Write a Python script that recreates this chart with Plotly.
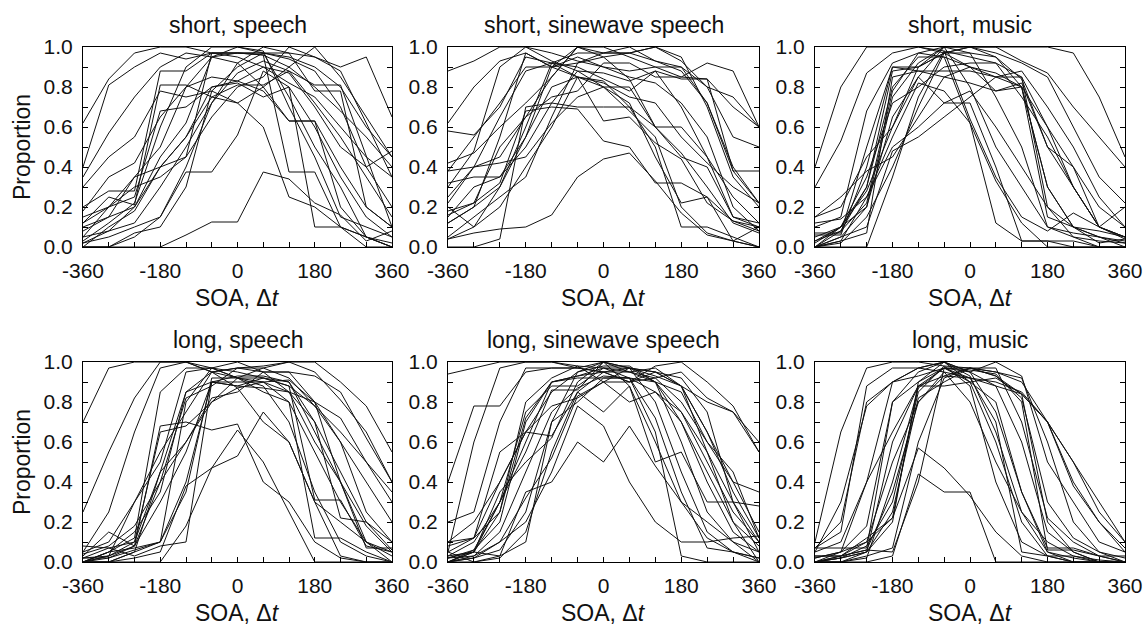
import plotly.graph_objects as go

SOA = [-360, -300, -240, -180, -120, -60, 0, 60, 120, 180, 240, 300, 360]

panel_titles = ["short, speech", "short, sinewave speech", "short, music",
                "long, speech", "long, sinewave speech", "long, music"]

short_speech = [
    [0.62, 0.84, 0.97, 1.0, 1.0, 0.97, 0.95, 0.90, 0.82, 0.75, 0.60, 0.45, 0.35],
    [0.40, 0.81, 0.90, 0.97, 0.94, 0.97, 0.97, 0.96, 0.90, 0.80, 0.68, 0.55, 0.40],
    [0.35, 0.57, 0.75, 0.90, 0.97, 0.95, 0.92, 0.80, 0.63, 0.63, 0.40, 0.20, 0.10],
    [0.20, 0.28, 0.28, 0.88, 0.88, 0.97, 0.97, 0.97, 0.95, 0.90, 0.80, 0.60, 0.45],
    [0.12, 0.25, 0.21, 0.81, 0.81, 0.75, 0.81, 0.81, 0.88, 0.81, 0.81, 0.45, 0.10],
    [0.05, 0.20, 0.35, 0.50, 0.80, 0.95, 1.0, 0.97, 0.94, 0.88, 0.70, 0.40, 0.20],
    [0.10, 0.15, 0.20, 0.40, 0.55, 0.75, 0.72, 0.80, 0.90, 1.0, 0.85, 0.65, 0.45],
    [0.0, 0.0, 0.07, 0.10, 0.30, 0.78, 0.90, 0.97, 0.75, 0.50, 0.30, 0.05, 0.0],
    [0.0, 0.0, 0.0, 0.0, 0.06, 0.125, 0.125, 0.375, 0.34, 0.22, 0.16, 0.03, 0.08],
    [0.02, 0.05, 0.10, 0.15, 0.375, 0.375, 0.56, 0.88, 0.80, 0.60, 0.35, 0.15, 0.05],
    [0.18, 0.35, 0.42, 0.65, 0.80, 0.85, 0.83, 0.78, 0.63, 0.63, 0.20, 0.05, 0.0],
    [0.02, 0.08, 0.20, 0.45, 0.62, 0.95, 0.97, 0.96, 0.375, 0.375, 0.10, 0.0, 0.0],
    [0.08, 0.15, 0.35, 0.40, 0.45, 0.97, 0.97, 0.97, 0.97, 0.78, 0.78, 0.20, 0.10],
    [0.0, 0.10, 0.18, 0.40, 0.55, 0.80, 0.82, 0.75, 0.80, 0.10, 0.10, 0.05, 0.0],
    [0.30, 0.45, 0.55, 0.78, 0.75, 0.78, 0.72, 0.60, 0.25, 0.20, 0.10, 0.05, 0.02],
    [0.05, 0.08, 0.12, 0.30, 0.50, 0.72, 0.87, 0.93, 0.88, 0.72, 0.55, 0.35, 0.15],
    [0.0, 0.0, 0.05, 0.15, 0.40, 0.72, 0.92, 1.0, 0.97, 0.95, 0.88, 0.62, 0.35],
    [0.12, 0.20, 0.30, 0.35, 0.45, 0.65, 0.80, 0.85, 1.0, 0.95, 0.90, 0.95, 0.65],
    [0.15, 0.20, 0.25, 0.68, 0.70, 0.80, 0.83, 0.90, 0.87, 0.70, 0.50, 0.40, 0.48],
    [0.03, 0.12, 0.22, 0.60, 0.90, 1.0, 1.0, 0.98, 0.70, 0.45, 0.15, 0.10, 0.05],
]

short_sinewave = [
    [0.88, 0.93, 1.0, 1.0, 0.97, 0.93, 0.90, 0.88, 0.90, 0.85, 0.84, 0.70, 0.60],
    [0.62, 0.80, 0.93, 0.97, 0.90, 0.92, 0.95, 0.97, 1.0, 0.93, 0.80, 0.55, 0.50],
    [0.58, 0.56, 0.70, 0.95, 0.92, 0.90, 0.84, 0.78, 0.88, 0.84, 0.84, 0.38, 0.38],
    [0.38, 0.55, 0.72, 0.90, 0.90, 1.0, 0.97, 0.97, 0.93, 0.88, 0.72, 0.38, 0.22],
    [0.42, 0.47, 0.60, 0.72, 0.85, 1.0, 1.0, 0.95, 0.90, 0.90, 0.80, 0.75, 0.60],
    [0.32, 0.35, 0.35, 0.55, 0.90, 0.95, 0.90, 0.85, 0.82, 0.72, 0.55, 0.20, 0.08],
    [0.25, 0.40, 0.45, 0.65, 0.85, 1.0, 0.95, 0.84, 0.60, 0.60, 0.45, 0.25, 0.12],
    [0.15, 0.30, 0.35, 0.50, 0.72, 0.88, 0.87, 0.83, 0.88, 0.70, 0.45, 0.15, 0.10],
    [0.12, 0.20, 0.30, 0.60, 0.92, 0.97, 0.97, 1.0, 0.93, 0.90, 0.72, 0.40, 0.22],
    [0.04, 0.10, 0.30, 0.55, 0.80, 0.85, 0.82, 0.75, 0.72, 0.55, 0.42, 0.30, 0.22],
    [0.04, 0.07, 0.09, 0.10, 0.16, 0.35, 0.44, 0.47, 0.33, 0.17, 0.06, 0.03, 0.0],
    [0.16, 0.22, 0.32, 0.68, 0.70, 0.69, 0.53, 0.50, 0.32, 0.32, 0.25, 0.13, 0.08],
    [0.20, 0.10, 0.20, 0.40, 0.60, 0.85, 0.63, 0.65, 0.52, 0.44, 0.22, 0.13, 0.10],
    [0.38, 0.40, 0.42, 0.45, 0.62, 0.75, 0.80, 0.72, 0.45, 0.22, 0.25, 0.03, 0.10],
    [0.0, 0.0, 0.04, 0.70, 0.72, 0.70, 0.70, 0.70, 0.60, 0.47, 0.30, 0.12, 0.07],
    [0.12, 0.20, 0.55, 0.97, 0.90, 0.85, 0.83, 0.70, 0.50, 0.10, 0.10, 0.05, 0.0],
    [0.22, 0.40, 0.65, 0.88, 0.92, 0.85, 0.80, 0.68, 0.55, 0.20, 0.07, 0.03, 0.0],
    [0.05, 0.15, 0.25, 0.35, 0.65, 0.92, 0.97, 0.97, 1.0, 0.95, 0.70, 0.35, 0.20],
    [0.30, 0.48, 0.90, 1.0, 0.93, 0.88, 0.80, 0.80, 0.60, 0.45, 0.40, 0.15, 0.12],
    [0.18, 0.22, 0.50, 0.65, 0.75, 0.78, 0.92, 0.92, 0.85, 0.85, 0.92, 0.88, 0.60],
]

short_music = [
    [0.40, 0.80, 1.0, 1.0, 1.0, 0.98, 0.95, 0.92, 0.85, 0.60, 0.30, 0.10, 0.05],
    [0.30, 0.53, 0.87, 0.97, 1.0, 0.97, 1.0, 1.0, 1.0, 1.0, 0.97, 0.75, 0.45],
    [0.10, 0.15, 0.68, 0.92, 0.97, 1.0, 1.0, 1.0, 0.93, 0.87, 0.70, 0.55, 0.40],
    [0.06, 0.06, 0.40, 0.90, 0.90, 0.97, 0.90, 0.85, 0.80, 0.30, 0.10, 0.08, 0.05],
    [0.0, 0.08, 0.30, 0.88, 0.90, 1.0, 0.80, 0.50, 0.30, 0.10, 0.05, 0.03, 0.02],
    [0.02, 0.10, 0.20, 0.75, 0.92, 1.0, 0.97, 0.95, 0.84, 0.50, 0.30, 0.10, 0.05],
    [0.0, 0.03, 0.07, 0.85, 0.88, 0.88, 0.88, 0.85, 0.85, 0.20, 0.05, 0.0, 0.0],
    [0.0, 0.05, 0.20, 0.65, 0.85, 0.72, 0.72, 0.40, 0.03, 0.03, 0.03, 0.0, 0.0],
    [0.12, 0.14, 0.25, 0.50, 0.60, 0.72, 0.78, 0.60, 0.40, 0.20, 0.10, 0.05, 0.0],
    [0.0, 0.0, 0.0, 0.35, 0.75, 0.98, 0.64, 0.35, 0.15, 0.08, 0.17, 0.10, 0.20],
    [0.05, 0.10, 0.30, 0.80, 0.95, 0.95, 0.90, 0.87, 0.80, 0.60, 0.40, 0.10, 0.04],
    [0.0, 0.03, 0.25, 0.55, 0.82, 0.78, 0.62, 0.33, 0.12, 0.0, 0.0, 0.0, 0.0],
    [0.15, 0.25, 0.38, 0.45, 0.65, 0.85, 0.82, 0.78, 0.82, 0.50, 0.40, 0.20, 0.10],
    [0.0, 0.10, 0.35, 0.72, 0.80, 0.90, 0.92, 0.92, 0.75, 0.55, 0.30, 0.10, 0.05],
    [0.0, 0.05, 0.10, 0.48, 0.55, 0.65, 0.75, 0.85, 0.88, 0.70, 0.50, 0.25, 0.10],
    [0.03, 0.10, 0.28, 0.60, 0.90, 0.97, 1.0, 0.95, 0.80, 0.30, 0.10, 0.02, 0.04],
    [0.07, 0.07, 0.50, 0.90, 0.88, 0.85, 0.90, 0.78, 0.80, 0.15, 0.10, 0.05, 0.02],
    [0.0, 0.02, 0.15, 0.40, 0.70, 0.97, 0.97, 0.75, 0.50, 0.10, 0.07, 0.05, 0.03],
    [0.03, 0.08, 0.22, 0.78, 0.97, 0.95, 0.62, 0.12, 0.03, 0.03, 0.0, 0.0, 0.0],
    [0.15, 0.20, 0.45, 0.60, 0.85, 1.0, 1.0, 0.97, 0.92, 0.85, 0.60, 0.35, 0.22],
]

long_speech = [
    [0.70, 0.97, 1.0, 1.0, 1.0, 0.97, 0.95, 0.92, 0.88, 0.78, 0.65, 0.50, 0.35],
    [0.25, 0.55, 0.82, 1.0, 1.0, 0.95, 0.92, 0.90, 0.85, 0.80, 0.60, 0.40, 0.20],
    [0.05, 0.25, 0.65, 0.97, 1.0, 0.95, 0.97, 0.95, 0.95, 0.93, 0.85, 0.62, 0.40],
    [0.03, 0.15, 0.08, 0.68, 0.70, 0.66, 0.69, 0.40, 0.30, 0.10, 0.02, 0.0, 0.0],
    [0.0, 0.05, 0.12, 0.85, 0.97, 0.97, 1.0, 0.95, 0.85, 0.70, 0.22, 0.20, 0.10],
    [0.02, 0.03, 0.10, 0.45, 0.85, 0.90, 0.88, 0.92, 0.88, 0.31, 0.31, 0.08, 0.05],
    [0.0, 0.0, 0.05, 0.10, 0.40, 0.90, 0.93, 0.93, 0.90, 0.70, 0.45, 0.20, 0.06],
    [0.0, 0.05, 0.07, 0.10, 0.35, 0.92, 0.92, 0.92, 0.90, 0.65, 0.40, 0.10, 0.03],
    [0.05, 0.10, 0.30, 0.50, 0.95, 0.97, 0.92, 0.85, 0.80, 0.55, 0.30, 0.10, 0.05],
    [0.0, 0.02, 0.08, 0.40, 0.82, 0.88, 0.97, 0.97, 1.0, 1.0, 0.90, 0.78, 0.55],
    [0.0, 0.0, 0.0, 0.0, 0.18, 0.47, 0.53, 0.75, 0.60, 0.30, 0.03, 0.0, 0.0],
    [0.0, 0.0, 0.02, 0.05, 0.38, 0.47, 0.66, 0.50, 0.25, 0.0, 0.0, 0.0, 0.0],
    [0.02, 0.07, 0.10, 0.65, 0.68, 0.80, 0.87, 0.90, 0.80, 0.12, 0.12, 0.05, 0.0],
    [0.0, 0.03, 0.30, 0.55, 0.75, 0.95, 0.97, 0.98, 1.0, 0.95, 0.81, 0.65, 0.40],
    [0.08, 0.07, 0.03, 0.08, 0.10, 0.90, 0.90, 0.90, 0.91, 0.80, 0.40, 0.07, 0.07],
    [0.0, 0.03, 0.08, 0.30, 0.55, 0.90, 0.88, 0.87, 0.85, 0.60, 0.40, 0.18, 0.05],
    [0.0, 0.05, 0.15, 0.35, 0.85, 0.95, 0.87, 0.70, 0.60, 0.30, 0.20, 0.10, 0.0],
    [0.02, 0.02, 0.06, 0.10, 0.80, 0.97, 0.92, 0.88, 0.70, 0.35, 0.10, 0.03, 0.0],
    [0.04, 0.08, 0.18, 0.40, 0.60, 0.82, 0.85, 0.95, 0.95, 0.80, 0.72, 0.50, 0.30],
    [0.0, 0.0, 0.05, 0.45, 0.60, 0.80, 0.92, 0.97, 0.92, 0.78, 0.60, 0.25, 0.10],
]

long_sinewave = [
    [0.94, 0.97, 1.0, 1.0, 1.0, 0.98, 0.97, 0.97, 0.95, 0.88, 0.80, 0.75, 0.60],
    [0.40, 0.78, 0.78, 0.95, 0.97, 0.97, 1.0, 0.95, 0.92, 0.95, 0.82, 0.75, 0.55],
    [0.20, 0.25, 0.70, 0.97, 0.97, 0.97, 0.95, 0.90, 0.98, 1.0, 0.90, 0.78, 0.55],
    [0.05, 0.60, 0.97, 1.0, 1.0, 0.97, 0.95, 0.90, 0.92, 0.80, 0.60, 0.40, 0.35],
    [0.10, 0.12, 0.55, 0.65, 0.63, 0.85, 0.75, 0.88, 0.50, 0.55, 0.30, 0.30, 0.28],
    [0.02, 0.05, 0.25, 0.72, 0.90, 0.93, 0.97, 0.95, 0.90, 0.85, 0.60, 0.45, 0.12],
    [0.0, 0.06, 0.30, 0.75, 0.88, 0.88, 0.97, 0.92, 0.85, 0.75, 0.50, 0.25, 0.10],
    [0.05, 0.0, 0.03, 0.35, 0.40, 0.60, 0.50, 0.68, 0.48, 0.30, 0.20, 0.10, 0.0],
    [0.0, 0.02, 0.10, 0.20, 0.45, 0.78, 0.68, 0.40, 0.20, 0.10, 0.10, 0.12, 0.13],
    [0.03, 0.10, 0.30, 0.60, 0.90, 0.92, 0.92, 0.92, 0.90, 0.70, 0.45, 0.20, 0.08],
    [0.0, 0.0, 0.02, 0.15, 0.55, 0.85, 0.95, 0.97, 0.93, 0.88, 0.55, 0.30, 0.05],
    [0.08, 0.12, 0.40, 0.65, 0.78, 0.82, 0.90, 0.80, 0.85, 0.70, 0.40, 0.15, 0.05],
    [0.0, 0.05, 0.30, 0.55, 0.86, 0.86, 1.0, 0.97, 0.90, 0.75, 0.55, 0.20, 0.0],
    [0.0, 0.03, 0.15, 0.45, 0.75, 0.87, 0.93, 0.92, 0.65, 0.03, 0.0, 0.0, 0.0],
    [0.02, 0.06, 0.20, 0.70, 0.90, 0.93, 0.95, 0.95, 0.97, 0.88, 0.65, 0.35, 0.12],
    [0.03, 0.05, 0.03, 0.10, 0.70, 0.80, 0.92, 0.92, 0.72, 0.35, 0.07, 0.05, 0.02],
    [0.0, 0.05, 0.35, 0.50, 0.62, 0.90, 1.0, 0.88, 0.60, 0.30, 0.12, 0.05, 0.0],
    [0.05, 0.12, 0.25, 0.80, 0.92, 0.98, 0.90, 0.90, 0.95, 0.92, 0.75, 0.30, 0.10],
    [0.10, 0.20, 0.40, 0.65, 0.85, 0.95, 0.98, 0.98, 0.90, 0.60, 0.25, 0.10, 0.05],
    [0.0, 0.02, 0.06, 0.25, 0.70, 0.95, 1.0, 0.97, 0.80, 0.45, 0.15, 0.05, 0.02],
    [0.02, 0.03, 0.10, 0.32, 0.52, 0.83, 0.90, 0.97, 0.95, 0.88, 0.65, 0.40, 0.15],
]

long_music = [
    [0.10, 0.65, 0.97, 1.0, 1.0, 0.98, 0.97, 0.95, 0.90, 0.70, 0.50, 0.25, 0.10],
    [0.07, 0.15, 0.88, 0.97, 0.97, 1.0, 0.95, 1.0, 0.93, 0.50, 0.30, 0.10, 0.05],
    [0.05, 0.30, 0.78, 0.90, 0.97, 0.95, 0.92, 0.88, 0.84, 0.70, 0.40, 0.20, 0.07],
    [0.0, 0.05, 0.40, 0.90, 0.97, 1.0, 0.90, 0.60, 0.20, 0.03, 0.0, 0.0, 0.0],
    [0.0, 0.03, 0.12, 0.22, 0.88, 0.88, 0.90, 0.92, 0.84, 0.20, 0.05, 0.0, 0.0],
    [0.03, 0.03, 0.06, 0.05, 0.40, 0.97, 0.96, 0.94, 0.80, 0.06, 0.06, 0.03, 0.03],
    [0.07, 0.07, 0.07, 0.80, 0.90, 0.97, 0.95, 0.88, 0.60, 0.15, 0.05, 0.0, 0.0],
    [0.0, 0.0, 0.05, 0.20, 0.90, 1.0, 0.95, 0.75, 0.35, 0.05, 0.0, 0.0, 0.0],
    [0.0, 0.02, 0.05, 0.60, 0.88, 0.97, 0.92, 0.70, 0.05, 0.03, 0.03, 0.0, 0.0],
    [0.02, 0.05, 0.10, 0.22, 0.57, 0.47, 0.33, 0.15, 0.03, 0.0, 0.0, 0.0, 0.0],
    [0.0, 0.0, 0.0, 0.03, 0.44, 0.35, 0.35, 0.0, 0.0, 0.0, 0.0, 0.0, 0.0],
    [0.0, 0.02, 0.08, 0.30, 0.85, 0.98, 0.88, 0.40, 0.10, 0.03, 0.0, 0.0, 0.0],
    [0.0, 0.0, 0.03, 0.07, 0.60, 0.92, 0.97, 0.95, 0.92, 0.60, 0.20, 0.05, 0.0],
    [0.05, 0.10, 0.40, 0.65, 0.88, 0.93, 0.97, 0.97, 0.70, 0.22, 0.10, 0.03, 0.0],
    [0.0, 0.03, 0.06, 0.35, 0.80, 0.93, 0.92, 0.90, 0.85, 0.70, 0.38, 0.20, 0.05],
    [0.0, 0.0, 0.02, 0.40, 0.87, 0.97, 0.90, 0.80, 0.35, 0.07, 0.07, 0.03, 0.0],
    [0.07, 0.20, 0.80, 0.90, 0.93, 0.97, 0.97, 0.93, 0.84, 0.70, 0.50, 0.30, 0.10],
    [0.03, 0.03, 0.10, 0.50, 0.80, 0.95, 0.80, 0.50, 0.25, 0.05, 0.02, 0.0, 0.0],
    [0.0, 0.02, 0.05, 0.25, 0.82, 0.90, 0.97, 0.93, 0.82, 0.30, 0.12, 0.05, 0.02],
    [0.02, 0.05, 0.18, 0.80, 0.95, 1.0, 0.93, 0.65, 0.25, 0.10, 0.03, 0.01, 0.0],
]

x_tickvals = SOA
x_ticktext = ["-360", "", "", "-180", "", "", "0", "", "", "180", "", "", "360"]
y_tickvals = [0.0, 0.1, 0.2, 0.3, 0.4, 0.5, 0.6, 0.7, 0.8, 0.9, 1.0]
y_ticktext = ["0.0", "", "0.2", "", "0.4", "", "0.6", "", "0.8", "", "1.0"]

panels = [short_speech, short_sinewave, short_music, long_speech, long_sinewave, long_music]

W, H = 1148, 625
col_px = [(83, 392), (448, 759), (815, 1125)]
row_px = [(47, 247), (362, 562)]

FONT = "Liberation Sans, Arial, Helvetica, sans-serif"
fig = go.Figure()
annotations = []

for i, data in enumerate(panels):
    r, c = divmod(i, 3)
    idx = i + 1
    xa = "x" if idx == 1 else f"x{idx}"
    ya = "y" if idx == 1 else f"y{idx}"
    for series in data:
        fig.add_trace(go.Scatter(x=SOA, y=series, mode="lines", xaxis=xa, yaxis=ya,
                                 line=dict(color="#111111", width=1), showlegend=False,
                                 hoverinfo="skip"))
    x0, x1 = col_px[c]
    y0, y1 = row_px[r]
    xdom = [x0 / W, x1 / W]
    ydom = [1 - y1 / H, 1 - y0 / H]
    xkey = "xaxis" if idx == 1 else f"xaxis{idx}"
    ykey = "yaxis" if idx == 1 else f"yaxis{idx}"
    fig.update_layout(**{
        xkey: dict(domain=xdom, anchor=ya, range=[-360, 360], tickmode="array",
                   tickvals=x_tickvals, ticktext=x_ticktext, ticks="inside", ticklen=5,
                   tickwidth=1, tickcolor="black", showline=True, linecolor="black",
                   linewidth=1, mirror=True, showgrid=False, zeroline=False,
                   automargin=False,
                   tickfont=dict(size=21, color="#111", family=FONT),
                   ticklabelstandoff=5),
        ykey: dict(domain=ydom, anchor=xa, range=[0, 1], tickmode="array",
                   tickvals=y_tickvals, ticktext=y_ticktext, ticks="inside", ticklen=5,
                   tickwidth=1, tickcolor="black", showline=True, linecolor="black",
                   linewidth=1, mirror="allticks", showgrid=False, zeroline=False,
                   automargin=False,
                   tickfont=dict(size=21, color="#111", family=FONT),
                   ticklabelstandoff=5),
    })
    cx = (x0 + x1) / 2 / W
    annotations.append(dict(text=panel_titles[i], x=cx, y=1 - (y0 - 22) / H,
                            xref="paper", yref="paper", xanchor="center", yanchor="middle",
                            showarrow=False, font=dict(size=23, color="#111", family=FONT)))
    annotations.append(dict(text="SOA, Δ<i>t</i>", x=cx, y=1 - (y1 + 51) / H,
                            xref="paper", yref="paper", xanchor="center", yanchor="middle",
                            showarrow=False, font=dict(size=23, color="#111", family=FONT)))
    if c == 0:
        annotations.append(dict(text="Proportion", x=22 / W, y=1 - (y0 + y1) / 2 / H,
                                xref="paper", yref="paper", xanchor="center",
                                yanchor="middle", textangle=-90, showarrow=False,
                                font=dict(size=23, color="#111", family=FONT)))

fig.update_layout(width=W, height=H, margin=dict(l=0, r=0, t=0, b=0),
                  paper_bgcolor="white", plot_bgcolor="white",
                  annotations=annotations, showlegend=False)

fig.write_html("out.html")
